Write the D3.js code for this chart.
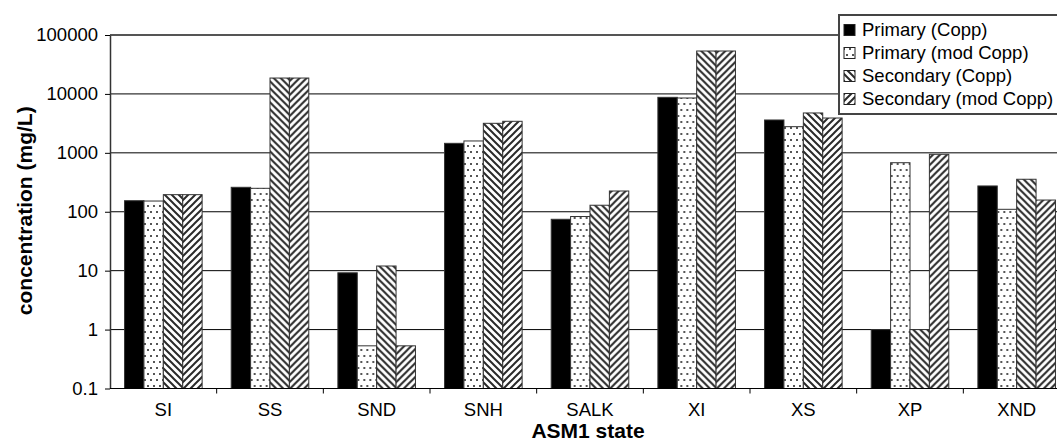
<!DOCTYPE html>
<html>
<head>
<meta charset="utf-8">
<script src="https://cdn.jsdelivr.net/npm/d3@7"></script>
<style>
  html, body { margin: 0; padding: 0; background: #fff; overflow: hidden; }
  svg { display: block; font-family: "Liberation Sans", Arial, sans-serif; }
</style>
</head>
<body>
<svg id="chart" width="1057" height="445"></svg>
<script>
// ASM1 state variables
const categories = ["SI", "SS", "SND", "SNH", "SALK", "XI", "XS", "XP", "XND"];
const seriesNames = ["Primary (Copp)", "Primary (mod Copp)", "Secondary (Copp)", "Secondary (mod Copp)"];

// concentrations in mg/L
const primaryCopp      = [154, 260, 9.2, 1450, 74.5, 8750, 3610, 1.0, 274];
const primaryModCopp   = [152, 250, 0.53, 1590, 83, 8530, 2780, 680, 110];
const secondaryCopp    = [195, 18600, 12, 3170, 129, 53500, 4750, 1.0, 356];
const secondaryModCopp = [195, 18600, 0.53, 3430, 225, 53500, 3900, 944, 158];

const yTickValues = [0.1, 1, 10, 100, 1000, 10000, 100000];
const yTickLabels = ["0.1", "1", "10", "100", "1000", "10000", "100000"];

const seriesValues = [primaryCopp, primaryModCopp, secondaryCopp, secondaryModCopp];
const fills = ["#000", "url(#dots)", "url(#back)", "url(#fwd)"];

const svg = d3.select("#chart");
const plot = { left: 110, right: 1070, top: 35, bottom: 388.5 };

// fill patterns
const defs = svg.append("defs");
const dots = defs.append("pattern").attr("id", "dots")
  .attr("patternUnits", "userSpaceOnUse").attr("width", 6).attr("height", 12);
dots.append("rect").attr("width", 6).attr("height", 12).attr("fill", "#fff");
dots.append("rect").attr("x", 1).attr("y", 1).attr("width", 2).attr("height", 2).attr("fill", "#555");
dots.append("rect").attr("x", 4).attr("y", 7).attr("width", 2).attr("height", 2).attr("fill", "#555");

function stripes(id, d) {
  const p = defs.append("pattern").attr("id", id)
    .attr("patternUnits", "userSpaceOnUse").attr("width", 7).attr("height", 7);
  p.append("rect").attr("width", 7).attr("height", 7).attr("fill", "#fff");
  p.append("path").attr("d", d).attr("stroke", "#2a2a2a").attr("stroke-width", 2).attr("fill", "none");
}
stripes("back", "M0,0L7,7M-2,5L2,9M5,-2L9,2");
stripes("fwd", "M0,7L7,0M-2,2L2,-2M5,9L9,5");

// scales
const x0 = d3.scaleBand().domain(categories).range([plot.left, plot.right]).padding(0);
const x1 = d3.scaleBand().domain(d3.range(seriesNames.length))
  .range([0, x0.bandwidth()]).paddingInner(0).paddingOuter(0.75);
const y = d3.scaleLog().domain([0.1, 100000]).range([plot.bottom, plot.top]);

// gridlines
svg.append("g").selectAll("line")
  .data(yTickValues.slice(1, -1))
  .join("line")
  .attr("x1", plot.left).attr("x2", plot.right)
  .attr("y1", d => y(d)).attr("y2", d => y(d))
  .attr("stroke", "#000").attr("stroke-width", 1);

// plot area top border
svg.append("line")
  .attr("x1", plot.left).attr("x2", plot.right)
  .attr("y1", plot.top).attr("y2", plot.top)
  .attr("stroke", "#555").attr("stroke-width", 2);

// bars
const groups = svg.append("g").selectAll("g")
  .data(categories)
  .join("g")
  .attr("transform", d => `translate(${x0(d)},0)`);

groups.selectAll("rect")
  .data((c, i) => seriesValues.map((vals, s) => ({ s, v: vals[i] })))
  .join("rect")
  .attr("x", d => x1(d.s))
  .attr("width", x1.bandwidth())
  .attr("y", d => y(d.v))
  .attr("height", d => y(0.1) - y(d.v))
  .attr("fill", d => fills[d.s])
  .attr("stroke", "#333").attr("stroke-width", 1);

// y axis
const yAxis = d3.axisLeft(y)
  .tickValues(yTickValues)
  .tickFormat((d, i) => yTickLabels[i])
  .tickSizeInner(5).tickSizeOuter(0).tickPadding(7);
const gy = svg.append("g").attr("transform", `translate(${plot.left},0)`).call(yAxis);
gy.select(".domain").attr("stroke", "#333").attr("stroke-width", 1.5);
gy.selectAll(".tick line").attr("stroke", "#000");
gy.selectAll(".tick text").attr("font-size", 18.5).attr("fill", "#000")
  .attr("font-family", "Liberation Sans, Arial, sans-serif");

// x axis: ticks at category boundaries
const gx = svg.append("g").attr("transform", `translate(0,${plot.bottom})`);
gx.append("line").attr("x1", plot.left).attr("x2", plot.right)
  .attr("stroke", "#000").attr("stroke-width", 1);
gx.selectAll("line.tk")
  .data(categories.slice(1))
  .join("line").attr("class", "tk")
  .attr("x1", d => x0(d)).attr("x2", d => x0(d))
  .attr("y1", 0).attr("y2", 5)
  .attr("stroke", "#000");
gx.selectAll("text")
  .data(categories)
  .join("text")
  .attr("x", d => x0(d) + x0.bandwidth() / 2)
  .attr("y", 27.5)
  .attr("text-anchor", "middle")
  .attr("font-size", 18.5)
  .attr("fill", "#000")
  .text(d => d);

// axis titles
svg.append("text")
  .attr("x", (plot.left + plot.right) / 2 - 2)
  .attr("y", 438)
  .attr("text-anchor", "middle")
  .attr("font-size", 21).attr("font-weight", "bold")
  .text("ASM1 state");

svg.append("text")
  .attr("transform", `translate(32,${(plot.top + plot.bottom) / 2 - 1}) rotate(-90)`)
  .attr("text-anchor", "middle")
  .attr("font-size", 21).attr("font-weight", "bold")
  .text("concentration (mg/L)");

// legend
const legend = svg.append("g").attr("transform", "translate(839,15)");
legend.append("rect")
  .attr("width", 225).attr("height", 99)
  .attr("fill", "#fff").attr("stroke", "#444").attr("stroke-width", 2);
const rowY = d3.scalePoint().domain(d3.range(seriesNames.length)).range([15, 84]);
const items = legend.selectAll("g.item")
  .data(seriesNames)
  .join("g").attr("class", "item")
  .attr("transform", (d, i) => `translate(0,${rowY(i)})`);
items.append("rect")
  .attr("x", 5).attr("y", -5.5).attr("width", 11).attr("height", 11)
  .attr("fill", (d, i) => fills[i])
  .attr("stroke", "#222").attr("stroke-width", 1);
items.append("text")
  .attr("x", 23).attr("y", 0).attr("dy", "0.35em")
  .attr("font-size", 18.5).attr("fill", "#000")
  .text(d => d);
</script>
</body>
</html>
